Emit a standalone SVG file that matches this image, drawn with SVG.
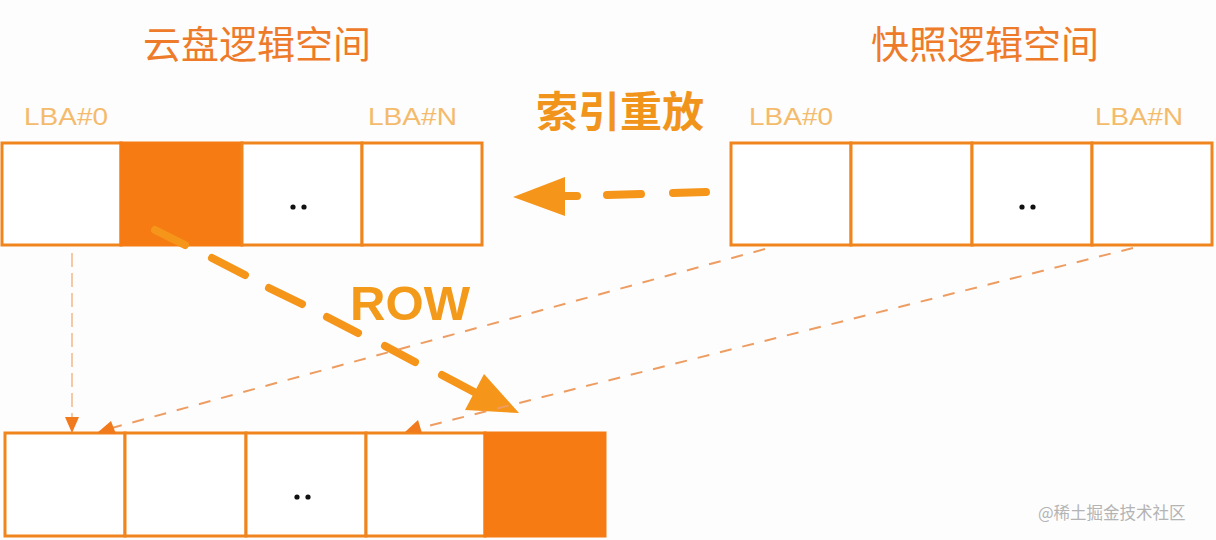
<svg xmlns="http://www.w3.org/2000/svg" width="1216" height="540" viewBox="0 0 1216 540">
  <style>
    .cell { fill: #ffffff; stroke: #f0851e; stroke-width: 3; }
    .hot { fill: #f57b12; stroke: #f57b12; stroke-width: 3; }
    .title { font-family: "Noto Sans CJK SC", "Noto Sans", sans-serif; font-size: 38px; fill: #ee7b2a; text-anchor: middle; }
    .lba { font-family: "Liberation Sans", Arial, sans-serif; font-size: 24px; fill: #f4bb6c; }
    .dot { fill: #111111; }
    .thick { stroke: #f5951a; stroke-width: 8; stroke-linecap: round; fill: none; }
    .thin { stroke: #ee9d62; stroke-width: 2; fill: none; stroke-dasharray: 12 11; }
    .thinv { stroke: #f4c49a; stroke-width: 1.8; fill: none; stroke-dasharray: 14 6; }
    .head { fill: #f5951a; }
    .shead { fill: #f07a1c; }
  </style>
  <rect x="0" y="0" width="1216" height="540" fill="#fdfdfd"/>

  <g id="title-cloud">
    <text class="title" x="257" y="58">云盘逻辑空间</text>
  </g>
  <g id="title-snapshot">
    <text class="title" x="985" y="58">快照逻辑空间</text>
  </g>

  <g id="cloud-disk-space">
    <rect class="cell" x="2" y="143" width="119" height="102"/>
    <rect class="hot" x="121" y="143" width="121" height="102"/>
    <rect class="cell" x="242" y="143" width="120" height="102"/>
    <rect class="cell" x="362" y="143" width="120" height="102"/>
    <circle class="dot" cx="293" cy="207" r="2.6"/>
    <circle class="dot" cx="304" cy="207" r="2.6"/>
    <text class="lba" x="24" y="125" textLength="84" lengthAdjust="spacingAndGlyphs">LBA#0</text>
    <text class="lba" x="368" y="125" textLength="89" lengthAdjust="spacingAndGlyphs">LBA#N</text>
  </g>

  <g id="snapshot-space">
    <rect class="cell" x="731" y="143" width="120" height="102"/>
    <rect class="cell" x="851" y="143" width="121" height="102"/>
    <rect class="cell" x="972" y="143" width="120" height="102"/>
    <rect class="cell" x="1092" y="143" width="120" height="102"/>
    <circle class="dot" cx="1022" cy="207" r="2.6"/>
    <circle class="dot" cx="1033" cy="207" r="2.6"/>
    <text class="lba" x="749" y="125" textLength="84" lengthAdjust="spacingAndGlyphs">LBA#0</text>
    <text class="lba" x="1095" y="125" textLength="88" lengthAdjust="spacingAndGlyphs">LBA#N</text>
  </g>

  <g id="result-space">
    <rect class="cell" x="5" y="433" width="120" height="103"/>
    <rect class="cell" x="125" y="433" width="121" height="103"/>
    <rect class="cell" x="246" y="433" width="120" height="103"/>
    <rect class="cell" x="366" y="433" width="119" height="103"/>
    <rect class="hot" x="485" y="433" width="120" height="103"/>
    <circle class="dot" cx="297" cy="497" r="2.6"/>
    <circle class="dot" cx="308" cy="497" r="2.6"/>
  </g>

  <g id="connectors">
    <!-- index replay: snapshot -> cloud disk -->
    <line class="thick" x1="706" y1="192" x2="673" y2="193"/>
    <line class="thick" x1="641" y1="194" x2="607" y2="195"/>
    <line class="thick" x1="577" y1="196" x2="562" y2="196"/>
    <polygon class="head" points="513,197 565,177 565,216"/>

    <!-- ROW: cloud disk block -> new block -->
    <line class="thick" x1="155" y1="230" x2="185" y2="245"/>
    <line class="thick" x1="212" y1="258" x2="245" y2="275"/>
    <line class="thick" x1="269" y1="288" x2="302" y2="304"/>
    <line class="thick" x1="327" y1="317" x2="358" y2="333"/>
    <line class="thick" x1="385" y1="346" x2="415" y2="362"/>
    <line class="thick" x1="442" y1="375" x2="476" y2="393"/>
    <polygon class="head" points="519,413 484,374 465,410"/>

    <!-- thin mapping lines -->
    <line class="thinv" x1="72" y1="253" x2="72" y2="418"/>
    <polygon class="shead" points="72,433 65,417 79,417"/>

    <line class="thin" x1="765" y1="249" x2="112" y2="428"/>
    <polygon class="shead" points="97,433 111,421 116,434"/>

    <line class="thin" x1="1133" y1="248" x2="420" y2="428"/>
    <polygon class="shead" points="405,432 418,420 422,433"/>
  </g>

  <g id="label-replay">
    <text x="620" y="127" font-family="Noto Sans CJK SC, Noto Sans, sans-serif" font-size="42" font-weight="bold" fill="#f0941c" text-anchor="middle">索引重放</text>
  </g>
  <g id="label-row">
    <text x="350" y="320" font-family="Liberation Sans, Arial, sans-serif" font-size="48" font-weight="bold" fill="#f39a1a" textLength="120" lengthAdjust="spacingAndGlyphs">ROW</text>
  </g>
  <g id="watermark">
    <text x="1038" y="519" font-family="Noto Sans CJK SC, Noto Sans, sans-serif" font-size="16.5" fill="#b4b4b4">@稀土掘金技术社区</text>
  </g>
</svg>
